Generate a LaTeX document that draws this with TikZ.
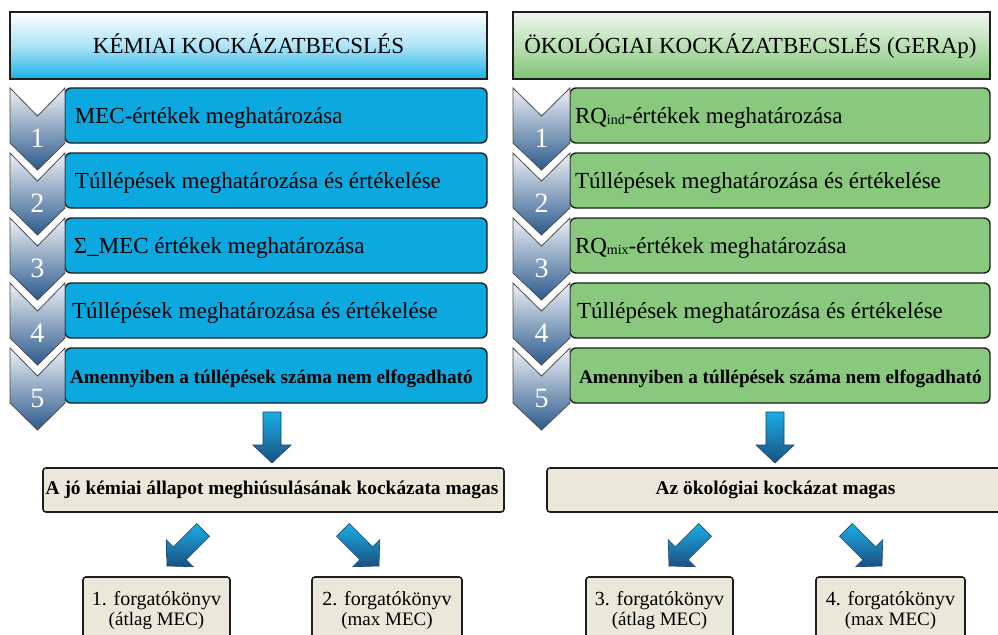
\documentclass[tikz,border=0pt]{standalone}
\usepackage{fontspec}
\setmainfont{Liberation Serif}
\definecolor{cyanrow}{HTML}{0BA9DF}
\definecolor{greenrow}{HTML}{89C97D}
\definecolor{beigebox}{HTML}{EBE8DA}
\definecolor{chevtop}{HTML}{EEF1F6}
\definecolor{chevbot}{HTML}{2B5A8C}
\definecolor{arrtop}{HTML}{1AAEE3}
\definecolor{arrbot}{HTML}{1B4F82}
\definecolor{hdrcyan}{HTML}{18B2E6}
\definecolor{hdrgreen}{HTML}{80C474}
\definecolor{edgecol}{HTML}{1E1E1E}
\newcommand\mychev[3]{%
  \shade[chevsty] (#1,#2) -- ++(#3/2,28) -- ++(#3/2,-28) -- ++(0,55) -- ++(-#3/2,27) -- ++(-#3/2,-27) -- cycle;}
\newcommand\diagarrow[3]{%
  \shade[arrsty, shift={(#1,#2)}, xscale=#3] (0,0) -- (26.17,0.71) -- (19.09,-6.37) -- (42.42,-29.70) -- (29.70,-42.42) -- (6.37,-19.09) -- (-0.71,-26.17) -- cycle;}
\begin{document}
\begin{tikzpicture}[x=0.5pt,y=-0.5pt,
  every node/.style={inner sep=0pt, outer sep=0pt},
  hdr/.style={draw=edgecol, line width=0.7pt, minimum width=238.5pt, minimum height=33.5pt, anchor=north west},
  rowbox/.style={draw=edgecol, line width=0.7pt, rounded corners=3pt, minimum height=27.5pt, anchor=north west},
  resbox/.style={draw=edgecol, line width=0.8pt, rounded corners=1.5pt, fill=beigebox, minimum height=22pt, anchor=north west},
  scbox/.style={draw=edgecol, line width=0.8pt, rounded corners=1.5pt, fill=beigebox, minimum height=36.5pt, anchor=north west},
  hdrtxt/.style={anchor=base, font=\fontsize{11.5}{13}\selectfont},
  rowtxt/.style={anchor=base west, font=\fontsize{11.5}{13}\selectfont},
  rowtxtb/.style={anchor=base west, font=\fontsize{9.6}{11}\selectfont\bfseries},
  restxt/.style={anchor=base, font=\fontsize{9.7}{11}\selectfont\bfseries},
  sctxt/.style={anchor=base, font=\fontsize{10}{11}\selectfont},
  sctxtb/.style={anchor=base, font=\fontsize{9.5}{11}\selectfont},
  num/.style={anchor=base, text=white, font=\fontsize{14}{14}\selectfont},
  chevsty/.style={top color=chevtop, bottom color=chevbot, draw=gray!60!black, line width=0.4pt},
  arrsty/.style={top color=arrtop, bottom color=arrbot, draw=arrbot!80!black, line width=0.3pt}
]
\clip (0,0) rectangle (998,634);
\fill[white] (0,0) rectangle (998,634);

% headers
\node[hdr, top color=white, bottom color=hdrcyan, middle color=hdrcyan!35] (hL) at (10,12) {};
\node[hdrtxt] (hLt) at (248.5,53) {KÉMIAI KOCKÁZATBECSLÉS};
\node[hdr, top color=hdrgreen!12, bottom color=hdrgreen, middle color=hdrgreen!55] (hR) at (513,12) {};
\node[hdrtxt] (hRt) at (750.5,53) {ÖKOLÓGIAI KOCKÁZATBECSLÉS (GERAp)};

% left rows
\foreach \i/\yt in {1/88,2/153,3/218,4/283,5/348}{
  \node[rowbox, fill=cyanrow, minimum width=211pt] (l\i) at (65,\yt) {};
  \node[rowbox, fill=greenrow, minimum width=210pt] (r\i) at (570,\yt) {};
}
\foreach \i/\yt in {1/88,2/153,3/218,4/283,5/348}{
  \mychev{10}{\yt}{55}
  \mychev{513}{\yt}{57}
  \node[num] (nl\i) at (37.5,\yt+59) {\i};
  \node[num] (nr\i) at (541.5,\yt+59) {\i};
}

\node[rowtxt] (tl1) at (75,123) {MEC-értékek meghatározása};
\node[rowtxt] (tl2) at (75,188) {Túllépések meghatározása és értékelése};
\node[rowtxt] (tl3) at (74,253) {Σ\_MEC értékek meghatározása};
\node[rowtxt] (tl4) at (72,318) {Túllépések meghatározása és értékelése};
\node[rowtxtb] (tl5) at (70,383) {Amennyiben a túllépések száma nem elfogadható};

\node[rowtxt] (tr1) at (575,123) {RQ\raisebox{-0.5pt}{\fontsize{7}{7}\selectfont ind}-értékek meghatározása};
\node[rowtxt] (tr2) at (575,188) {Túllépések meghatározása és értékelése};
\node[rowtxt] (tr3) at (575,253) {RQ\raisebox{-0.5pt}{\fontsize{7}{7}\selectfont mix}-értékek meghatározása};
\node[rowtxt] (tr4) at (577,318) {Túllépések meghatározása és értékelése};
\node[rowtxtb] (tr5) at (579,383) {Amennyiben a túllépések száma nem elfogadható};

% vertical block arrows
\shade[arrsty] (263,412) -- (281,412) -- (281,445) -- (291,445) -- (272,463) -- (253,445) -- (263,445) -- cycle;
\shade[arrsty] (766,412) -- (784,412) -- (784,445) -- (794,445) -- (775,463) -- (756,445) -- (766,445) -- cycle;

% result boxes
\node[resbox, minimum width=230.5pt] (resL) at (43,468) {};
\node[restxt] (resLt) at (272,494) {A jó kémiai állapot meghiúsulásának kockázata magas};
\node[resbox, minimum width=228.5pt] (resR) at (547,468) {};
\node[restxt] (resRt) at (775.5,494) {Az ökológiai kockázat magas};

% diagonal block arrows
\diagarrow{167}{566}{1}
\diagarrow{379}{566}{-1}
\diagarrow{669}{566}{1}
\diagarrow{882}{566}{-1}

% scenario boxes
\node[scbox, minimum width=73.5pt] (s1) at (83,577) {};
\node[scbox, minimum width=75pt] (s2) at (312,577) {};
\node[scbox, minimum width=73.5pt] (s3) at (586,577) {};
\node[scbox, minimum width=74.5pt] (s4) at (816,577) {};
\node[sctxt] (s1a) at (156.5,605) {1. forgatókönyv};
\node[sctxtb] (s1b) at (156.5,625) {(átlag MEC)};
\node[sctxt] (s2a) at (387,605) {2. forgatókönyv};
\node[sctxtb] (s2b) at (387,625) {(max MEC)};
\node[sctxt] (s3a) at (659.5,605) {3. forgatókönyv};
\node[sctxtb] (s3b) at (659.5,625) {(átlag MEC)};
\node[sctxt] (s4a) at (890.5,605) {4. forgatókönyv};
\node[sctxtb] (s4b) at (890.5,625) {(max MEC)};
\end{tikzpicture}
\end{document}
